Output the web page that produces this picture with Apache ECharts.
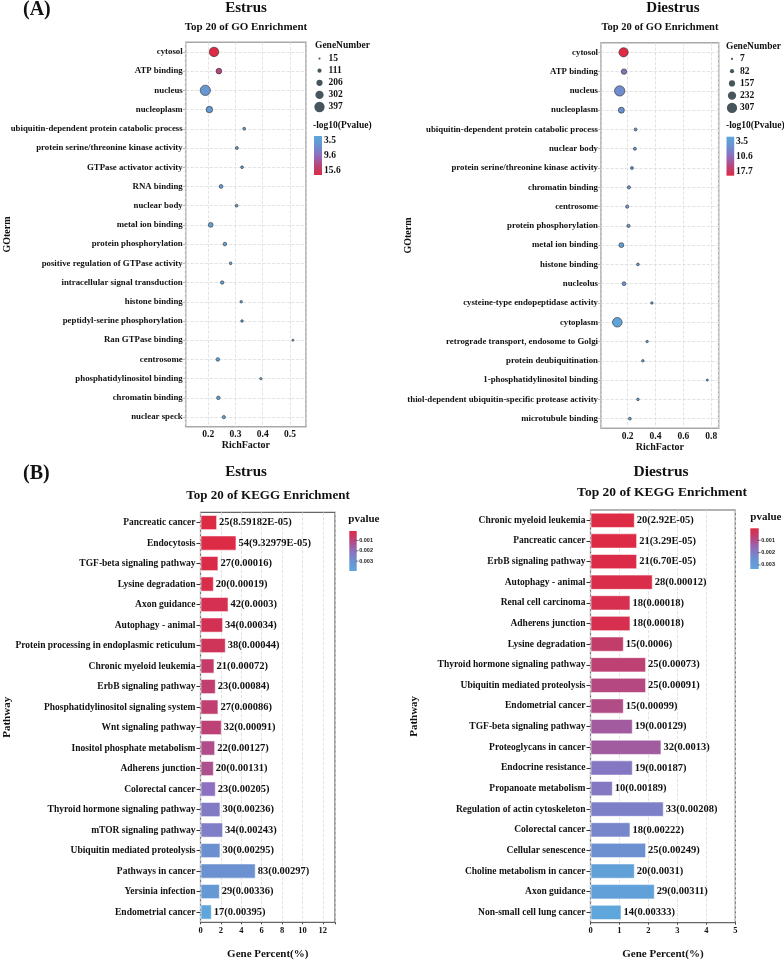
<!DOCTYPE html>
<html><head><meta charset="utf-8">
<script src="https://cdn.jsdelivr.net/npm/echarts/dist/echarts.min.js"></script>
<style>html,body{margin:0;padding:0;background:#fff}#c{width:784px;height:962px}</style>
</head><body><div id="c"></div>
<script>
// ---------- DATA ----------
const goEstrusTerms = ['cytosol','ATP binding','nucleus','nucleoplasm','ubiquitin-dependent protein catabolic process','protein serine/threonine kinase activity','GTPase activator activity','RNA binding','nuclear body','metal ion binding','protein phosphorylation','positive regulation of GTPase activity','intracellular signal transduction','histone binding','peptidyl-serine phosphorylation','Ran GTPase binding','centrosome','phosphatidylinositol binding','chromatin binding','nuclear speck'];
const goEstrusRich = [0.221,0.239,0.189,0.204,0.332,0.305,0.324,0.247,0.304,0.209,0.261,0.282,0.251,0.321,0.324,0.511,0.235,0.393,0.237,0.257];
const goEstrusCount = [360,180,397,220,50,55,45,95,50,140,85,45,75,35,35,15,85,25,85,70];
const goEstrusLogP = [15.6,12.3,5.6,5.1,4.8,4.6,4.4,4.3,4.2,4.1,4.0,3.9,3.8,3.8,3.7,3.7,3.6,3.6,3.5,3.5];
const goEstrusSizeTicks = [15,111,206,302,397];
const goEstrusColorTicks = [3.5,9.6,15.6];

const goDiestrusTerms = ['cytosol','ATP binding','nucleus','nucleoplasm','ubiquitin-dependent protein catabolic process','nuclear body','protein serine/threonine kinase activity','chromatin binding','centrosome','protein phosphorylation','metal ion binding','histone binding','nucleolus','cysteine-type endopeptidase activity','cytoplasm','retrograde transport, endosome to Golgi','protein deubiquitination','1-phosphatidylinositol binding','thiol-dependent ubiquitin-specific protease activity','microtubule binding'];
const goDiestrusRich = [0.171,0.174,0.143,0.155,0.257,0.252,0.231,0.209,0.197,0.206,0.155,0.274,0.174,0.374,0.126,0.340,0.309,0.771,0.274,0.216];
const goDiestrusCount = [270,130,307,150,40,40,40,50,50,50,110,30,70,20,280,18,22,8,25,35];
const goDiestrusLogP = [17.7,10.4,7.6,6.6,5.8,5.5,5.3,5.1,5.0,4.9,4.7,4.5,4.3,4.2,4.0,3.9,3.8,3.7,3.6,3.5];
const goDiestrusSizeTicks = [7,82,157,232,307];
const goDiestrusColorTicks = [3.5,10.6,17.7];

const keggEstrusNames = ['Pancreatic cancer','Endocytosis','TGF-beta signaling pathway','Lysine degradation','Axon guidance','Autophagy - animal','Protein processing in endoplasmic reticulum','Chronic myeloid leukemia','ErbB signaling pathway','Phosphatidylinositol signaling system','Wnt signaling pathway','Inositol phosphate metabolism','Adherens junction','Colorectal cancer','Thyroid hormone signaling pathway','mTOR signaling pathway','Ubiquitin mediated proteolysis','Pathways in cancer','Yersinia infection','Endometrial cancer'];
const keggEstrusCount = [25,54,27,20,42,34,38,21,23,27,32,22,20,23,30,34,30,83,29,17];
const keggEstrusPercent = [1.63,3.53,1.76,1.31,2.75,2.22,2.48,1.37,1.50,1.76,2.09,1.44,1.31,1.50,1.96,2.22,1.96,5.42,1.90,1.11];
const keggEstrusPLabel = ['8.59182E-05','9.32979E-05','0.00016','0.00019','0.0003','0.00034','0.00044','0.00072','0.00084','0.00086','0.00091','0.00127','0.00131','0.00205','0.00236','0.00243','0.00295','0.00297','0.00336','0.00395'];
const keggEstrusP = [8.59182e-5,9.32979e-5,0.00016,0.00019,0.0003,0.00034,0.00044,0.00072,0.00084,0.00086,0.00091,0.00127,0.00131,0.00205,0.00236,0.00243,0.00295,0.00297,0.00336,0.00395];

const keggDiestrusNames = ['Chronic myeloid leukemia','Pancreatic cancer','ErbB signaling pathway','Autophagy - animal','Renal cell carcinoma','Adherens junction','Lysine degradation','Thyroid hormone signaling pathway','Ubiquitin mediated proteolysis','Endometrial cancer','TGF-beta signaling pathway','Proteoglycans in cancer','Endocrine resistance','Propanoate metabolism','Regulation of actin cytoskeleton','Colorectal cancer','Cellular senescence','Choline metabolism in cancer','Axon guidance','Non-small cell lung cancer'];
const keggDiestrusCount = [20,21,21,28,18,18,15,25,25,15,19,32,19,10,33,18,25,20,29,14];
const keggDiestrusPercent = [1.53,1.61,1.61,2.15,1.38,1.38,1.15,1.92,1.92,1.15,1.46,2.45,1.46,0.77,2.53,1.38,1.92,1.53,2.22,1.07];
const keggDiestrusPLabel = ['2.92E-05','3.29E-05','6.70E-05','0.00012','0.00018','0.00018','0.0006','0.00073','0.00091','0.00099','0.00129','0.0013','0.00187','0.00189','0.00208','0.00222','0.00249','0.0031','0.00311','0.00333'];
const keggDiestrusP = [2.92e-5,3.29e-5,6.70e-5,0.00012,0.00018,0.00018,0.0006,0.00073,0.00091,0.00099,0.00129,0.0013,0.00187,0.00189,0.00208,0.00222,0.00249,0.0031,0.00311,0.00333];
const keggPTicks = [0.001,0.002,0.003];

// ---------- STYLE ----------
const FONT = "'Liberation Serif','Times New Roman',serif";
const lowToHigh = ['#5ea6db','#6b91d0','#8e6fbe','#b8457c','#dd2a45']; // blue -> red
const redToBlue = lowToHigh.slice().reverse();

function sizeFn(v, ticks){ const a=ticks[0], b=ticks[ticks.length-1]; return 2.1 + 8.2*(v-a)/(b-a); }

const gridBase = {show:true, containLabel:false, outerBoundsMode:'none'};
const grids = [
  Object.assign({left:185.7, top:42.3, width:120.3, height:384.4, borderColor:'#a8a8a8', borderWidth:1.5}, gridBase),
  Object.assign({left:601, top:42.7, width:117.7, height:385.6, borderColor:'#a8a8a8', borderWidth:1.5}, gridBase),
  Object.assign({left:200.5, top:512.3, width:134.5, height:410, borderColor:'#666', borderWidth:1.2}, gridBase),
  Object.assign({left:590.5, top:510, width:144.8, height:412.7, borderColor:'#666', borderWidth:1.2}, gridBase)
];

const dashLine = {show:true, lineStyle:{type:'dashed', color:'#dcdcdc', width:0.8}};
const lblBase = {fontFamily:FONT, fontWeight:'bold', color:'#111'};

function goX(gi, min, max){
  return {type:'value', gridIndex:gi, min, max, splitNumber:5,
    axisLine:{show:false}, axisTick:{show:false},
    axisLabel:Object.assign({fontSize:9.5, margin:3, showMinLabel:false, showMaxLabel:false}, lblBase),
    splitLine:dashLine,
    name:'RichFactor', nameLocation:'middle', nameGap:14, nameMoveOverlap:false,
    nameTextStyle:{fontFamily:FONT, fontWeight:'bold', fontSize:10, color:'#111'}};
}
function goY(gi, terms, gap){
  return {type:'category', gridIndex:gi, data:terms, inverse:true,
    axisLine:{show:false}, axisTick:{show:true, length:3, alignWithLabel:true, lineStyle:{color:'#bbb'}},
    axisLabel:Object.assign({fontSize:8.8, margin:3}, lblBase),
    splitLine:Object.assign({alignWithLabel:true}, dashLine),
    name:'GOterm', nameLocation:'middle', nameRotate:90, nameGap:gap, nameMoveOverlap:false,
    nameTextStyle:{fontFamily:FONT, fontWeight:'bold', fontSize:10, color:'#111'}};
}
function keggX(gi, max, interval){
  return {type:'value', gridIndex:gi, min:0, max, interval,
    axisLine:{show:false}, axisTick:{show:true, length:2, lineStyle:{color:'#444'}},
    axisLabel:Object.assign({fontSize:8.5, margin:4, formatter:v=>{const k=v/interval; return Math.abs(k-Math.round(k))<1e-6 ? String(v) : '';}}, lblBase),
    splitLine:dashLine,
    name:'Gene Percent(%)', nameLocation:'middle', nameGap:26, nameMoveOverlap:false,
    nameTextStyle:{fontFamily:FONT, fontWeight:'bold', fontSize:11, color:'#111'}};
}
function keggY(gi, names, gap){
  return {type:'category', gridIndex:gi, data:names, inverse:true,
    axisLine:{show:false}, axisTick:{show:true, length:4, alignWithLabel:true, lineStyle:{color:'#333'}},
    axisLabel:Object.assign({fontSize:9.5, margin:5}, lblBase),
    splitLine:{show:false},
    name:'Pathway', nameLocation:'middle', nameRotate:90, nameGap:gap, nameMoveOverlap:false,
    nameTextStyle:{fontFamily:FONT, fontWeight:'bold', fontSize:11, color:'#111'}};
}

function goSeries(idx, terms, rich, count, logp, ticks){
  return {type:'scatter', xAxisIndex:idx, yAxisIndex:idx,
    data:terms.map((t,i)=>[rich[i], t, count[i], logp[i]]),
    symbolSize:v=>sizeFn(v[2], ticks),
    itemStyle:{borderColor:'#2a2a2a', borderWidth:0.6, opacity:1}, z:3};
}
function keggSeries(idx, names, pct, p, count, plab){
  return {type:'bar', xAxisIndex:idx, yAxisIndex:idx,
    data:names.map((n,i)=>[pct[i], n, p[i], count[i], plab[i]]),
    encode:{x:0, y:1}, barWidth:'74%',
    itemStyle:{borderColor:'rgba(255,255,255,0.55)', borderWidth:1},
    label:{show:true, position:'right', distance:2, fontFamily:FONT, fontWeight:'bold', fontSize:10.5, color:'#111',
      formatter:pp=>pp.value[3]+'('+pp.value[4]+')'}};
}

// ---------- LEGENDS (graphic) ----------
const graphic = [];
function txt(x,y,text,size,align){ graphic.push({type:'text', x, y, style:{text, fontSize:size, fontWeight:'bold', fontFamily:FONT, fill:'#111', align:align||'left', verticalAlign:'middle'}}); }
function grad(stops){ return {type:'linear', x:0, y:0, x2:0, y2:1, colorStops:stops.map((c,i)=>({offset:i/(stops.length-1), color:c}))}; }

function sizeLegend(x, y0, dotX, lblX, step, ticks){
  txt(x, y0, 'GeneNumber', 9.5);
  ticks.forEach((v,i)=>{
    const cy = y0 + 12.6 + i*step;
    graphic.push({type:'circle', shape:{cx:dotX, cy, r:sizeFn(v,ticks)/2}, style:{fill:'#47565c'}});
    txt(lblX, cy, String(v), 9.5);
  });
}
function goColorLegend(x, yTitle, barX, barY, barW, barH, lblX, ticks){
  txt(x, yTitle, '-log10(Pvalue)', 9.5);
  graphic.push({type:'rect', shape:{x:barX, y:barY, width:barW, height:barH}, style:{fill:grad(lowToHigh)}});
  const inset = 4.5, a = ticks[0], b = ticks[ticks.length-1];
  ticks.forEach(v=>{ txt(lblX, barY + inset + (v-a)/(b-a)*(barH-2*inset), String(v), 9.5); });
}
function keggColorLegend(x, yTitle, barX, barY, barW, barH, pmin, pmax){
  txt(x, yTitle, 'pvalue', 11);
  graphic.push({type:'rect', shape:{x:barX, y:barY, width:barW, height:barH}, style:{fill:grad(redToBlue)}});
  keggPTicks.forEach(v=>{
    const yy = barY + (v-pmin)/(pmax-pmin)*barH;
    graphic.push({type:'line', shape:{x1:barX+barW-1, y1:yy, x2:barX+barW+2, y2:yy}, style:{stroke:'#333', lineWidth:0.6}});
    graphic.push({type:'text', x:barX+barW+2.5, y:yy, style:{text:String(v), fontSize:5.5, fontWeight:'bold', fontFamily:"'Liberation Sans',Arial,sans-serif", fill:'#222', align:'left', verticalAlign:'middle'}});
  });
}

// titles
txt(23, 10, '(A)', 20);
txt(246, 8, 'Estrus', 15, 'center');
txt(246, 27, 'Top 20 of GO Enrichment', 11, 'center');
txt(673, 8, 'Diestrus', 15, 'center');
txt(660, 27.5, 'Top 20 of GO Enrichment', 10.5, 'center');
txt(23, 474, '(B)', 20);
txt(246, 472, 'Estrus', 15, 'center');
txt(268, 496, 'Top 20 of KEGG Enrichment', 13, 'center');
txt(661, 472, 'Diestrus', 15.5, 'center');
txt(662, 493, 'Top 20 of KEGG Enrichment', 13.5, 'center');

sizeLegend(315, 46, 319.5, 328.5, 12.1, goEstrusSizeTicks);
goColorLegend(313, 125.7, 314, 136, 8, 39, 324, goEstrusColorTicks);
sizeLegend(726, 46.3, 732, 740, 12.25, goDiestrusSizeTicks);
goColorLegend(726, 125.7, 726.5, 136.7, 7.7, 39, 736, goDiestrusColorTicks);
keggColorLegend(348.3, 519, 349.3, 531, 7.4, 40, keggEstrusP[0], keggEstrusP[keggEstrusP.length-1]);
keggColorLegend(750.3, 516.7, 750.3, 528.3, 8.4, 40.7, keggDiestrusP[0], keggDiestrusP[keggDiestrusP.length-1]);

const option = {
  backgroundColor:'#fff',
  animation:false,
  grid:grids,
  xAxis:[goX(0,0.117,0.559), goX(1,0.009,0.853), keggX(2,13.2,2), keggX(3,5,1)],
  yAxis:[goY(0,goEstrusTerms,173), goY(1,goDiestrusTerms,188), keggY(2,keggEstrusNames,188), keggY(3,keggDiestrusNames,171)],
  visualMap:[
    {type:'continuous', show:false, seriesIndex:0, dimension:3, min:goEstrusColorTicks[0], max:goEstrusColorTicks[2], inRange:{color:lowToHigh}},
    {type:'continuous', show:false, seriesIndex:1, dimension:3, min:goDiestrusColorTicks[0], max:goDiestrusColorTicks[2], inRange:{color:lowToHigh}},
    {type:'continuous', show:false, seriesIndex:2, dimension:2, min:keggEstrusP[0], max:keggEstrusP[keggEstrusP.length-1], inRange:{color:redToBlue}},
    {type:'continuous', show:false, seriesIndex:3, dimension:2, min:keggDiestrusP[0], max:keggDiestrusP[keggDiestrusP.length-1], inRange:{color:redToBlue}}
  ],
  series:[
    goSeries(0, goEstrusTerms, goEstrusRich, goEstrusCount, goEstrusLogP, goEstrusSizeTicks),
    goSeries(1, goDiestrusTerms, goDiestrusRich, goDiestrusCount, goDiestrusLogP, goDiestrusSizeTicks),
    keggSeries(2, keggEstrusNames, keggEstrusPercent, keggEstrusP, keggEstrusCount, keggEstrusPLabel),
    keggSeries(3, keggDiestrusNames, keggDiestrusPercent, keggDiestrusP, keggDiestrusCount, keggDiestrusPLabel)
  ],
  graphic:graphic
};
const chart = echarts.init(document.getElementById('c'), null, {renderer:'canvas'});
chart.setOption(option);
</script></body></html>
